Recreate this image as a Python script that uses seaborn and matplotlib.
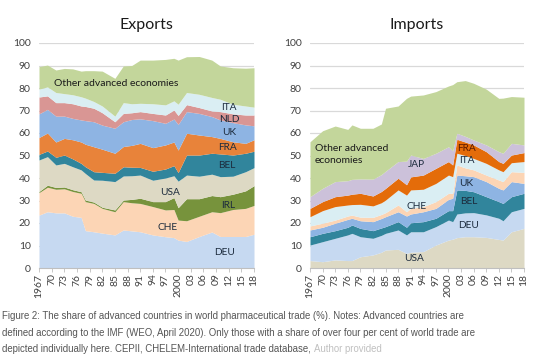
import matplotlib
matplotlib.use("Agg")
import matplotlib.pyplot as plt
import seaborn as sns

# ---- Exports: share of world pharmaceutical exports (%) ----
years_ex = [1967, 1969, 1971, 1973, 1975, 1977, 1978, 1980, 1982, 1985, 1987, 1989,
            1991, 1994, 1997, 1999, 2000, 2002, 2005, 2008, 2010, 2013, 2016, 2018]
deu_ex = [23.5, 25.0, 24.5, 24.5, 23.0, 22.5, 16.6, 16.1, 15.5, 14.7, 16.9, 16.5,
          16.1, 14.7, 13.9, 13.5, 12.4, 11.8, 14.0, 16.0, 14.0, 14.0, 14.0, 15.0]
che_ex = [10.0, 10.9, 10.5, 10.7, 11.0, 10.7, 12.9, 12.6, 11.0, 10.3, 12.6, 12.5,
          12.6, 12.6, 11.9, 12.5, 8.9, 9.2, 9.0, 9.0, 10.6, 12.0, 12.5, 12.8]
irl_ex = [0.5, 0.9, 0.8, 0.8, 0.8, 0.7, 0.7, 0.6, 0.5, 0.8, 0.7, 1.5,
          2.3, 2.2, 3.7, 5.3, 5.5, 9.8, 7.8, 7.2, 7.1, 6.8, 7.8, 8.8]
usa_ex = [14.0, 12.7, 10.0, 10.5, 10.2, 9.7, 11.8, 9.8, 12.0, 12.6, 10.7, 10.5,
          10.3, 9.5, 10.5, 9.7, 11.8, 10.5, 10.0, 9.5, 8.9, 8.0, 8.5, 8.0]
bel_ex = [2.5, 2.5, 3.4, 3.7, 3.5, 2.9, 3.0, 3.7, 3.5, 3.7, 4.1, 3.8,
          3.4, 4.0, 4.0, 4.5, 3.8, 8.9, 9.4, 9.3, 10.1, 9.4, 8.2, 7.3]
fra_ex = [7.5, 8.0, 6.8, 7.4, 8.5, 9.5, 10.0, 11.1, 10.3, 8.9, 9.0, 9.7,
          10.7, 10.5, 10.7, 10.5, 10.0, 9.7, 8.9, 7.4, 6.9, 5.9, 4.4, 5.1]
uk_ex = [10.5, 10.5, 11.5, 9.9, 9.5, 9.8, 10.5, 11.1, 10.7, 11.1, 11.0, 11.5,
         10.9, 12.0, 9.6, 10.2, 11.4, 9.6, 9.6, 8.9, 8.2, 8.5, 8.2, 6.2]
nld_ex = [7.5, 6.0, 6.0, 6.0, 6.5, 6.2, 6.3, 6.0, 5.5, 2.9, 3.7, 3.0,
          3.2, 3.2, 3.7, 4.0, 4.0, 3.1, 2.6, 2.5, 3.7, 3.9, 4.4, 4.8]
ita_ex = [3.5, 4.0, 4.5, 4.0, 4.0, 4.1, 3.7, 3.0, 3.0, 2.5, 4.8, 4.0,
          3.7, 4.3, 4.5, 4.1, 5.0, 5.4, 5.9, 6.0, 5.5, 4.3, 4.0, 3.5]
oth_ex = [10.0, 9.7, 10.0, 11.2, 11.5, 11.4, 12.2, 13.7, 15.5, 16.8, 16.3, 17.0,
          19.2, 19.4, 20.2, 18.9, 19.6, 15.9, 16.8, 16.6, 14.8, 16.2, 16.8, 17.5]

# ---- Imports: share of world pharmaceutical imports (%) ----
years_im = [1967, 1970, 1973, 1976, 1977, 1979, 1982, 1984, 1985, 1988, 1990, 1991,
            1994, 1997, 2000, 2001, 2002, 2004, 2006, 2009, 2012, 2013, 2015, 2018]
usa_im = [3.3, 2.8, 3.6, 3.3, 3.3, 5.0, 5.8, 7.0, 8.0, 8.3, 6.5, 7.0,
          7.3, 10.2, 12.4, 12.8, 13.5, 13.9, 13.9, 13.6, 12.7, 12.4, 16.1, 17.6]
deu_im = [6.9, 8.9, 9.6, 11.4, 12.1, 8.9, 7.4, 7.5, 7.4, 8.6, 8.2, 9.1,
          8.8, 8.2, 8.9, 7.8, 10.5, 10.6, 10.7, 10.0, 9.4, 8.6, 8.9, 8.9]
bel_im = [3.7, 3.7, 3.4, 3.4, 3.7, 3.7, 3.4, 3.3, 3.0, 3.7, 3.4, 4.0,
          4.5, 3.7, 4.2, 4.9, 10.7, 10.0, 9.3, 8.1, 7.4, 7.7, 6.7, 6.7]
uk_im = [3.0, 2.7, 3.3, 3.5, 3.0, 3.4, 4.0, 4.2, 4.4, 4.4, 5.0, 3.9,
         4.4, 4.4, 5.0, 5.5, 6.6, 6.5, 6.7, 6.7, 5.9, 6.0, 6.7, 4.4]
che_im = [1.8, 1.8, 1.4, 1.5, 1.4, 1.6, 1.9, 1.8, 1.8, 3.0, 1.9, 2.5,
          2.3, 3.0, 2.7, 2.2, 4.5, 3.5, 3.0, 2.9, 3.7, 3.7, 4.4, 4.9]
ita_im = [4.1, 5.6, 6.0, 4.9, 4.7, 5.7, 5.1, 5.2, 5.6, 6.7, 7.4, 8.2,
          7.7, 8.1, 8.1, 7.4, 5.2, 5.5, 5.1, 5.2, 4.5, 4.4, 4.0, 4.8]
fra_im = [3.7, 4.0, 4.4, 4.4, 4.6, 4.9, 4.4, 5.0, 5.2, 5.2, 4.6, 5.8,
          6.3, 6.7, 6.0, 5.2, 6.2, 6.0, 6.0, 5.2, 3.7, 3.7, 3.4, 4.0]
jap_im = [5.2, 5.9, 6.7, 6.4, 6.6, 6.4, 7.5, 7.5, 7.6, 7.4, 10.5, 9.7,
          7.4, 6.7, 6.6, 6.2, 2.7, 2.5, 2.2, 3.0, 4.4, 4.5, 5.2, 3.4]
oth_im = [24.4, 25.6, 24.7, 22.8, 24.2, 22.5, 22.6, 22.5, 28.0, 24.7, 27.9, 26.2,
          28.2, 27.4, 27.0, 29.5, 22.9, 24.8, 25.2, 24.8, 23.7, 24.5, 20.8, 21.2]

tick_years = list(range(1967, 2019, 3))
tick_labels = ["1967" if y == 1967 else "2000" if y == 2000 else f"{y % 100:02d}"
               for y in tick_years]

col = {
    "DEU": "#c6d9f1", "CHE": "#fcd5b5", "IRL": "#77933c", "USA": "#ddd9c4",
    "BEL": "#31859c", "FRA_ex": "#e8833a", "FRA_im": "#e46c0a", "UK": "#8eb4e3",
    "NLD": "#d99694", "ITA": "#daeef3", "JAP": "#ccc1da", "Other": "#c3d69b",
}

sns.set_theme(style="white")
plt.rcParams["font.family"] = ["Lato", "DejaVu Sans"]

fig = plt.figure(figsize=(5.38, 3.6), dpi=100)
ax1 = fig.add_axes([39 / 538, 92 / 360, 215 / 538, 225 / 360])
ax2 = fig.add_axes([310 / 538, 92 / 360, 214 / 538, 225 / 360])

ax1.stackplot(years_ex, deu_ex, che_ex, irl_ex, usa_ex, bel_ex, fra_ex, uk_ex, nld_ex, ita_ex, oth_ex,
              colors=[col["DEU"], col["CHE"], col["IRL"], col["USA"], col["BEL"], col["FRA_ex"],
                      col["UK"], col["NLD"], col["ITA"], col["Other"]],
              linewidth=0, zorder=2)
ax2.stackplot(years_im, usa_im, deu_im, bel_im, uk_im, che_im, ita_im, fra_im, jap_im, oth_im,
              colors=[col["USA"], col["DEU"], col["BEL"], col["UK"], col["CHE"], col["ITA"],
                      col["FRA_im"], col["JAP"], col["Other"]],
              linewidth=0, zorder=2)

for ax, title in [(ax1, "Exports"), (ax2, "Imports")]:
    ax.set_xlim(1967, 2018)
    ax.set_ylim(0, 100)
    ax.set_yticks(range(0, 101, 10))
    ax.set_xticks(tick_years)
    ax.set_xticklabels(tick_labels, rotation=90, fontsize=7.5, color="#404040")
    ax.tick_params(axis="y", length=0, pad=6, labelsize=7.5, labelcolor="#404040")
    ax.tick_params(axis="x", direction="out", length=3, width=0.6, color="#bfbfbf", pad=1, bottom=True)
    ax.grid(axis="y", color="#d9d9d9", linewidth=0.9, zorder=0)
    ax.grid(axis="x", visible=False)
    for s in ["top", "right", "left"]:
        ax.spines[s].set_visible(False)
    ax.spines["bottom"].set_color("#bfbfbf")
    ax.spines["bottom"].set_linewidth(0.8)
    ax.spines["bottom"].set_zorder(3)
    ax.set_title(title, fontsize=11.5, pad=10, color="#1a1a1a")

lab_color = "#1c2b3d"
ex_labels = [("ITA", 2012.1, 71.4), ("NLD", 2012.1, 66.2), ("UK", 2012.0, 60.1),
             ("FRA", 2011.8, 53.6), ("BEL", 2011.5, 45.5), ("USA", 1998.2, 33.6),
             ("IRL", 2011.8, 28.0), ("CHE", 1997.6, 18.1), ("DEU", 2011.0, 6.8)]
for txt, x, y in ex_labels:
    ax1.text(x, y, txt, ha="center", va="center", fontsize=7.3, color=lab_color, zorder=4)
ax1.text(1970.5, 82, "Other advanced economies", ha="left", va="center", fontsize=7.5,
         color="#1a1a1a", zorder=4)

im_labels = [("JAP", 1992.3, 45.8), ("CHE", 1992.5, 27.3), ("USA", 1991.9, 4.3),
             ("ITA", 2004.3, 47.7), ("UK", 2004.3, 37.6),
             ("BEL", 2004.8, 29.5), ("DEU", 2004.9, 19.1)]
for txt, x, y in im_labels:
    ax2.text(x, y, txt, ha="center", va="center", fontsize=7.3, color=lab_color, zorder=4)
ax2.text(2004.3, 53.2, "FRA", ha="center", va="center", fontsize=7.3, color="#5a1800", zorder=4)
ax2.text(1968.1, 50.6, "Other advanced\neconomies", ha="left", va="center", fontsize=7.5,
         color="#1a1a1a", linespacing=1.4, zorder=4)

cap_font = ["Liberation Sans", "DejaVu Sans"]
cap = dict(fontsize=6.9, color="#555555", family=cap_font, va="center", ha="left")
fig.text(0.004, 1 - 316 / 360,
         "Figure 2: The share of advanced countries in world pharmaceutical trade (%). "
         "Notes: Advanced countries are", **cap)
fig.text(0.004, 1 - 333 / 360,
         "defined according to the IMF (WEO, April 2020). Only those with a share of over "
         "four per cent of world trade are", **cap)
t3 = fig.text(0.004, 1 - 349 / 360,
              "depicted individually here. CEPII, CHELEM-International trade database, ", **cap)
ax1.annotate("Author provided", xy=(1, 0.5), xycoords=t3, va="center", ha="left",
             fontsize=6.9, color="#c0c0c0", family=cap_font, annotation_clip=False)

fig.savefig("out.png", dpi=100)
